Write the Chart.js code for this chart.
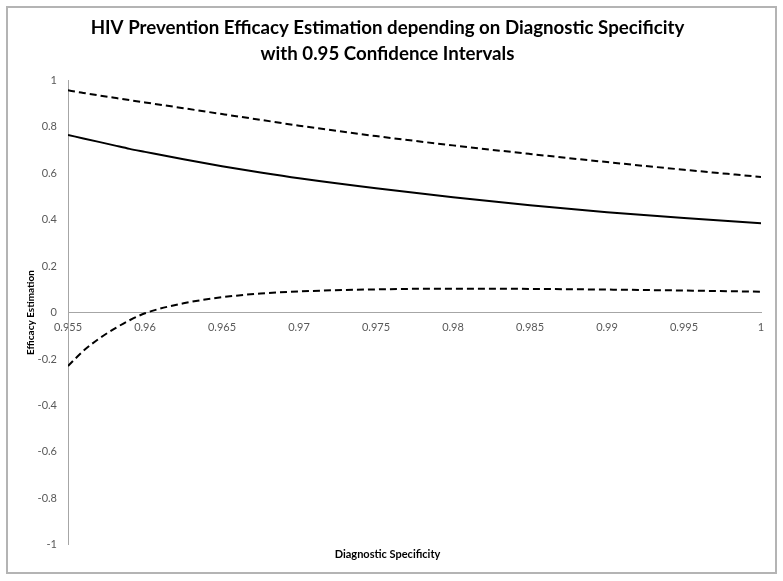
<!DOCTYPE html>
<html>
<head>
<meta charset="utf-8">
<script src="https://cdn.jsdelivr.net/npm/chart.js@4.4.0/dist/chart.umd.min.js"></script>
<style>
  html, body { margin: 0; padding: 0; background: #fff; }
  #wrap { width: 783px; height: 581px; }
</style>
</head>
<body>
<div id="wrap"><canvas id="chart"></canvas></div>
<script>
"use strict";

// values
const specificity = [0.955, 0.956, 0.957, 0.958, 0.959, 0.960, 0.9625, 0.965, 0.9675, 0.970, 0.975, 0.980, 0.985, 0.990, 0.995, 1.000];
const efficacy    = [0.765, 0.750, 0.735, 0.720, 0.705, 0.692, 0.660, 0.630, 0.603, 0.578, 0.535, 0.497, 0.462, 0.432, 0.407, 0.385];
const upperCI     = [0.957, 0.946, 0.935, 0.925, 0.915, 0.905, 0.880, 0.855, 0.830, 0.805, 0.760, 0.720, 0.683, 0.648, 0.615, 0.584];
const lowerCI     = [-0.230, -0.165, -0.113, -0.070, -0.033, -0.003, 0.040, 0.066, 0.082, 0.091, 0.100, 0.103, 0.102, 0.099, 0.095, 0.090];

const titleLines = ["HIV Prevention Efficacy Estimation depending on Diagnostic Specificity", "with 0.95 Confidence Intervals"];
const xTitle = "Diagnostic Specificity";
const yTitle = "Efficacy Estimation";

const fontFamily = "Lato, 'Open Sans', sans-serif";
const labelColor = "#595959";
const axisColor = "#a6a6a6";

function points(values) {
    return specificity.map(function(x, i) { return { x: x, y: values[i] }; });
}

function lineSet(label, values, dash) {
    return {
        label: label,
        data: points(values),
        borderColor: "#000",
        borderWidth: 2,
        borderDash: dash,
        pointRadius: 0,
        fill: false,
        cubicInterpolationMode: "monotone"
    };
}

// grey frame round the whole chart
const frame = {
    id: "frame",
    beforeDraw: function(chart) {
        const ctx = chart.ctx;
        ctx.save();
        ctx.fillStyle = "#fff";
        ctx.fillRect(0, 0, chart.width, chart.height);
        ctx.strokeStyle = "#b4b4b4";
        ctx.lineWidth = 2;
        ctx.strokeRect(7, 7, 769, 566);
        ctx.restore();
    }
};

new Chart(document.getElementById("chart"), {
    type: "line",
    data: {
        datasets: [
            lineSet("Upper", upperCI, [7, 4]),
            lineSet("Efficacy", efficacy, []),
            lineSet("Lower", lowerCI, [7, 4])
        ]
    },
    plugins: [frame],
    options: {
        responsive: true,
        maintainAspectRatio: false,
        animation: false,
        layout: { padding: { left: 14, right: 22, top: 0, bottom: 20 } },
        plugins: {
            legend: { display: false },
            tooltip: { enabled: false },
            title: {
                display: true,
                text: titleLines,
                color: "#000",
                font: { family: fontFamily, size: 18.7, weight: "bold", lineHeight: 1.4 },
                padding: { top: 15, bottom: 13 }
            },
            subtitle: {
                display: true,
                position: "bottom",
                text: xTitle,
                color: "#000",
                font: { family: fontFamily, size: 11, weight: "bold", lineHeight: 1.2 },
                padding: { top: 3, bottom: 0 }
            }
        },
        scales: {
            x: {
                type: "linear",
                position: { y: 0 },
                min: 0.955,
                max: 1,
                grid: { drawOnChartArea: false, drawTicks: false },
                border: { color: axisColor, width: 1 },
                ticks: {
                    stepSize: 0.005,
                    padding: 8,
                    color: labelColor,
                    maxRotation: 0,
                    font: { family: fontFamily, size: 11 },
                    callback: function(v) { return String(Number(v.toFixed(3))); }
                }
            },
            y: {
                type: "linear",
                position: "left",
                min: -1,
                max: 1,
                afterFit: function(scale) { scale.width = 54; },
                grid: { drawOnChartArea: false, drawTicks: false },
                border: { color: axisColor, width: 1 },
                ticks: {
                    stepSize: 0.2,
                    padding: 11,
                    color: labelColor,
                    font: { family: fontFamily, size: 11 },
                    callback: function(v) { return String(Number(v.toFixed(1))); }
                },
                title: {
                    display: true,
                    text: yTitle,
                    color: "#000",
                    font: { family: fontFamily, size: 10, weight: "bold", lineHeight: 1.2 },
                    padding: { top: 11, bottom: 0 }
                }
            }
        }
    }
});
</script>
</body>
</html>
